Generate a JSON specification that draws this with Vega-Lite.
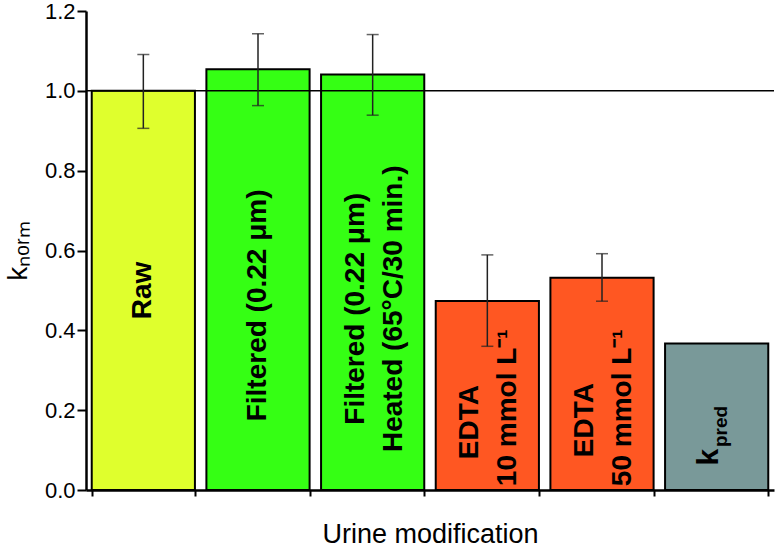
{
  "$schema": "https://vega.github.io/schema/vega-lite/v6.json",
  "width": 688,
  "height": 479,
  "autosize": {"type": "none"},
  "padding": {"left": 86, "top": 11, "right": 1, "bottom": 60},
  "background": "white",
  "config": {"view": {"stroke": null}, "font": "Liberation Sans"},
  "datasets": {
    "bars": [
      {"cat": "Raw", "k": 1.0, "lo": 0.906, "hi": 1.091},
      {"cat": "Filtered", "k": 1.054, "lo": 0.963, "hi": 1.143},
      {"cat": "Filtered + Heated", "k": 1.041, "lo": 0.939, "hi": 1.141},
      {"cat": "EDTA 10", "k": 0.4735, "lo": 0.36, "hi": 0.589},
      {"cat": "EDTA 50", "k": 0.532, "lo": 0.473, "hi": 0.592},
      {"cat": "kpred", "k": 0.367, "lo": null, "hi": null}
    ],
    "labels": [
      {"cat": "Raw", "txt": "Raw", "ly": 0.5, "pos": "C"},
      {"cat": "Filtered", "txt": "Filtered (0.22 μm)", "ly": 0.4625, "pos": "C"},
      {"cat": "Filtered + Heated", "txt": "Filtered (0.22 μm)", "ly": 0.454, "pos": "L"},
      {"cat": "Filtered + Heated", "txt": "Heated (65°C/30 min.)", "ly": 0.454, "pos": "R"},
      {"cat": "EDTA 10", "txt": "EDTA", "ly": 0.17, "pos": "L"},
      {"cat": "EDTA 10", "txt": "10 mmol L⁻¹", "ly": 0.206, "pos": "R"},
      {"cat": "EDTA 50", "txt": "EDTA", "ly": 0.175, "pos": "L"},
      {"cat": "EDTA 50", "txt": "50 mmol L⁻¹", "ly": 0.206, "pos": "R"},
      {"cat": "kpred", "txt": "k", "ly": 0.0825, "pos": "K"},
      {"cat": "kpred", "txt": "pred", "ly": 0.0825, "pos": "P"}
    ]
  },
  "layer": [
    {
      "data": {"name": "bars"},
      "mark": {"type": "bar", "stroke": "black", "strokeWidth": 2},
      "encoding": {
        "x": {
          "field": "cat", "type": "nominal", "sort": null,
          "scale": {"domain": ["Raw", "Filtered", "Filtered + Heated", "EDTA 10", "EDTA 50", "kpred"], "paddingInner": 0.1, "paddingOuter": 0.05},
          "axis": {
            "labels": false, "tickBand": "extent", "tickSize": 6, "tickWidth": 2, "tickColor": "black",
            "domainColor": "black", "domainWidth": 2.5,
            "title": "Urine modification", "titleFontSize": 27, "titleFontWeight": "normal", "titleColor": "black",
            "titlePadding": 24, "titleFont": "Liberation Sans"
          }
        },
        "y": {
          "field": "k", "type": "quantitative",
          "scale": {"domain": [0, 1.2], "nice": false},
          "axis": {
            "values": [0, 0.1, 0.2, 0.3, 0.4, 0.5, 0.6, 0.7, 0.8, 0.9, 1.0, 1.1, 1.2],
            "labelExpr": "round(datum.value*10) % 2 == 1 ? '' : format(datum.value, '.1f')",
            "tickSize": {"condition": {"test": "round(datum.value*10) % 2 == 1", "value": 6}, "value": 9},
            "tickWidth": 2, "tickColor": "black", "grid": false,
            "domainColor": "black", "domainWidth": 2.5,
            "labelFontSize": 22, "labelColor": "black", "labelPadding": 2, "labelFont": "Liberation Sans",
            "title": "kₙₒᵣₘ", "titleFontSize": 28, "titleFontWeight": "normal", "titleColor": "black", "titlePadding": 12
          }
        },
        "fill": {
          "field": "cat", "type": "nominal", "sort": null, "legend": null,
          "scale": {"domain": ["Raw", "Filtered", "Filtered + Heated", "EDTA 10", "EDTA 50", "kpred"],
                    "range": ["#DFFF2D", "#35FF14", "#35FF14", "#FF5722", "#FF5722", "#799999"]}
        }
      }
    },
    {
      "data": {"values": [{}]},
      "mark": {"type": "rule", "color": "black", "strokeWidth": 1.5},
      "encoding": {"y": {"datum": 1}}
    },
    {
      "data": {"name": "labels"},
      "transform": [{"filter": "datum.pos == 'C'"}],
      "mark": {"type": "text", "angle": 270, "align": "center", "baseline": "middle", "fontSize": 28, "fontWeight": "bold", "color": "black"},
      "encoding": {"x": {"field": "cat", "type": "nominal"}, "y": {"field": "ly", "type": "quantitative"}, "text": {"field": "txt"}}
    },
    {
      "data": {"name": "labels"},
      "transform": [{"filter": "datum.pos == 'L'"}],
      "mark": {"type": "text", "angle": 270, "align": "center", "baseline": "middle", "fontSize": 28, "fontWeight": "bold", "color": "black", "dy": -17},
      "encoding": {"x": {"field": "cat", "type": "nominal"}, "y": {"field": "ly", "type": "quantitative"}, "text": {"field": "txt"}}
    },
    {
      "data": {"name": "labels"},
      "transform": [{"filter": "datum.pos == 'R'"}],
      "mark": {"type": "text", "angle": 270, "align": "center", "baseline": "middle", "fontSize": 28, "fontWeight": "bold", "color": "black", "dy": 21},
      "encoding": {"x": {"field": "cat", "type": "nominal"}, "y": {"field": "ly", "type": "quantitative"}, "text": {"field": "txt"}}
    },
    {
      "data": {"name": "labels"},
      "transform": [{"filter": "datum.pos == 'K'"}],
      "mark": {"type": "text", "angle": 270, "align": "center", "baseline": "middle", "fontSize": 30, "fontWeight": "bold", "color": "black", "dy": -8},
      "encoding": {"x": {"field": "cat", "type": "nominal"}, "y": {"field": "ly", "type": "quantitative"}, "text": {"field": "txt"}}
    },
    {
      "data": {"name": "labels"},
      "transform": [{"filter": "datum.pos == 'P'"}],
      "mark": {"type": "text", "angle": 270, "align": "left", "baseline": "middle", "fontSize": 19, "fontWeight": "bold", "color": "black", "dy": 4, "dx": 10},
      "encoding": {"x": {"field": "cat", "type": "nominal"}, "y": {"field": "ly", "type": "quantitative"}, "text": {"field": "txt"}}
    },
    {
      "data": {"name": "bars"},
      "transform": [{"filter": "datum.lo != null"}],
      "mark": {"type": "rule", "color": "#222222", "strokeWidth": 1.5},
      "encoding": {"x": {"field": "cat", "type": "nominal"}, "y": {"field": "lo", "type": "quantitative"}, "y2": {"field": "hi"}}
    },
    {
      "data": {"name": "bars"},
      "transform": [{"filter": "datum.lo != null"}],
      "mark": {"type": "tick", "color": "#222222", "thickness": 1.5, "size": 12},
      "encoding": {"x": {"field": "cat", "type": "nominal"}, "y": {"field": "lo", "type": "quantitative"}}
    },
    {
      "data": {"name": "bars"},
      "transform": [{"filter": "datum.lo != null"}],
      "mark": {"type": "tick", "color": "#222222", "thickness": 1.5, "size": 12},
      "encoding": {"x": {"field": "cat", "type": "nominal"}, "y": {"field": "hi", "type": "quantitative"}}
    }
  ]
}
